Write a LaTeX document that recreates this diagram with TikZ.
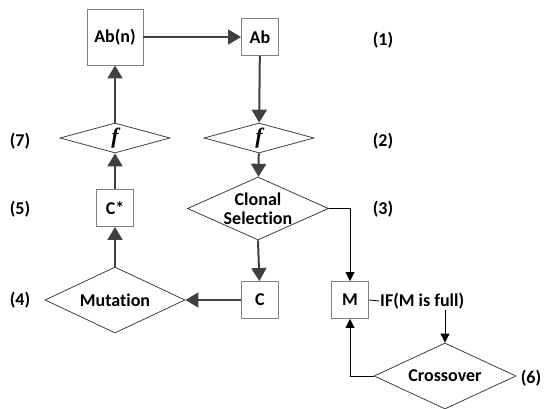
\documentclass[tikz,border=0pt]{standalone}
\usepackage{fontspec}
\setmainfont[Ligatures={NoCommon}]{Carlito}
\newfontfamily\fsymfont{Liberation Serif}
\usetikzlibrary{shapes.geometric,arrows.meta}
\definecolor{ink}{HTML}{404040}
\definecolor{frame}{HTML}{808080}
\tikzset{
  box/.style={draw=frame, line width=0.9pt, fill=white, inner sep=0pt, font=\bfseries\fontsize{18}{20}\selectfont},
  dia/.style={diamond, draw=ink, line width=0.8pt, fill=white, inner sep=0pt},
  lbl/.style={font=\bfseries\fontsize{18}{20}\selectfont, align=center, inner sep=1pt},
  flow/.style={draw=ink, line width=2pt, -{Triangle[length=13pt,width=15pt]}},
  link/.style={draw=black, line width=0.8pt, -{Triangle[length=9pt,width=9pt]}},
  fsym/.style={font=\fontsize{22}{22}\selectfont\fsymfont\bfseries\itshape, inner sep=0pt}
}
\begin{document}
\begin{tikzpicture}[x=1pt,y=-1pt]
\useasboundingbox (0,0) rectangle (544,409);

% boxes
\node[box, minimum size=56pt] (abn) at (115,37) {Ab(n)};
\node[box, minimum size=37pt] (ab) at (260,37) {Ab};
\node[box, minimum size=37pt] (cstar) at (115,208) {C*};
\node[box, minimum size=37pt] (c) at (260,300) {C};
\node[box, minimum size=37pt] (m) at (350,300) {M};

% decision shapes
\node[dia, minimum width=110pt, minimum height=30pt] (f1) at (115,138) {};
\node[fsym] at (f1) {f};
\node[dia, minimum width=110pt, minimum height=30pt] (f2) at (259,138) {};
\node[fsym] at (f2) {f};
\node[dia, minimum width=141pt, minimum height=63pt] (cs) at (258,208.5) {};
\node[lbl] at (cs) {Clonal\\[-1pt]Selection};
\node[dia, minimum width=140pt, minimum height=66pt] (mut) at (115,300) {};
\node[lbl] at (mut) {Mutation};
\node[dia, minimum width=142pt, minimum height=66pt] (cross) at (445,376) {};
\node[lbl] at (cross) {Crossover};

% condition text
\node[lbl, anchor=west] (cond) at (379,301) {IF(M is full)};

% step numbers
\node[lbl] (n1) at (383,40) {(1)};
\node[lbl] (n2) at (383,141) {(2)};
\node[lbl] (n3) at (383,209) {(3)};
\node[lbl] (n7) at (20,141) {(7)};
\node[lbl] (n5) at (20,209) {(5)};
\node[lbl] (n4) at (20,300) {(4)};
\node[lbl] (n6) at (531,378) {(6)};

% main flow
\draw[flow] (abn) -- (ab);
\draw[flow] (ab) -- (f2);
\draw[flow] (f2) -- (cs);
\draw[flow] (cs.south) -- (c);
\draw[flow] (c) -- (mut.east);
\draw[flow] (mut.north) -- (cstar);
\draw[flow] (cstar) -- (f1);
\draw[flow] (f1) -- (abn);

% memory branch
\draw[link] (cs.east) -| (m.north);
\draw[draw=black, line width=0.8pt] (m.east) -- (cond.west);
\draw[link] (cond.south -| cross.north) -- (cross.north);
\draw[link] (cross.west) -| (m.south);
\end{tikzpicture}
\end{document}
